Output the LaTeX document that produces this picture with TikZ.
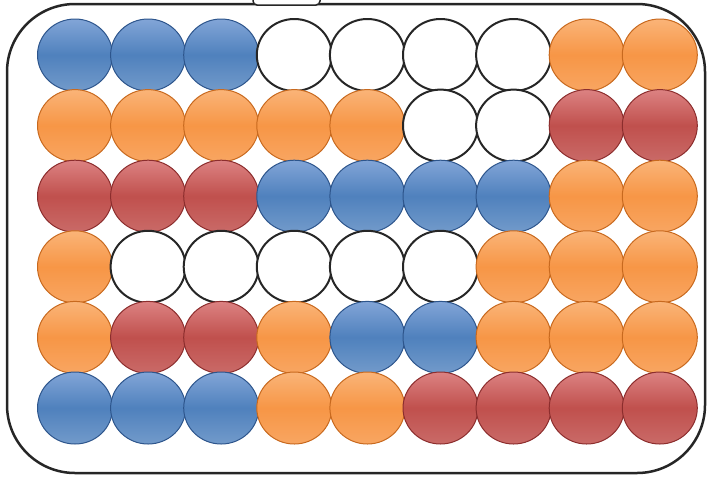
\documentclass[tikz,border=0pt]{standalone}
\usetikzlibrary{shapes.geometric}
\definecolor{blc}{RGB}{79,129,189}
\definecolor{blt}{RGB}{130,165,215}
\definecolor{bld}{RGB}{45,85,140}
\definecolor{orc}{RGB}{247,150,70}
\definecolor{ort}{RGB}{250,180,120}
\definecolor{ord}{RGB}{200,105,30}
\definecolor{rdc}{RGB}{192,80,77}
\definecolor{rdt}{RGB}{220,130,130}
\definecolor{rdd}{RGB}{140,45,45}
\tikzset{
  disc/.style={ellipse, minimum width=75pt, minimum height=72pt, inner sep=0pt, outer sep=0pt},
  discB/.style={disc, draw=bld, line width=1pt, top color=blt, bottom color=blc!80!white, middle color=blc},
  discO/.style={disc, draw=ord, line width=1pt, top color=ort, bottom color=orc!85!white, middle color=orc},
  discR/.style={disc, draw=rdd, line width=1pt, top color=rdt, bottom color=rdc!85!white, middle color=rdc},
  discW/.style={disc, draw=black!85, line width=2pt, fill=white},
  tray/.style={draw=black!85, line width=2.5pt, rounded corners=68pt},
  tab/.style={draw=black!85, fill=white, line width=1.5pt, rounded corners=4pt}
}
\begin{document}
\begin{tikzpicture}[x=1pt,y=-1pt]
\useasboundingbox (0,0) rectangle (708,477);
\draw[tray] (7,4) rectangle (705,473);
\draw[tab] (253,-10) rectangle (320,5);
\foreach \row [count=\r] in {{B,B,B,W,W,W,W,O,O},{O,O,O,O,O,W,W,R,R},{R,R,R,B,B,B,B,O,O},{O,W,W,W,W,W,O,O,O},{O,R,R,O,B,B,O,O,O},{B,B,B,O,O,R,R,R,R}} {
  \foreach \c [count=\k] in \row {
    \node[disc\c] (c\r-\k) at ({75+73.1*(\k-1)},{55+70.6*(\r-1)}) {};
  }
}
\end{tikzpicture}
\end{document}
